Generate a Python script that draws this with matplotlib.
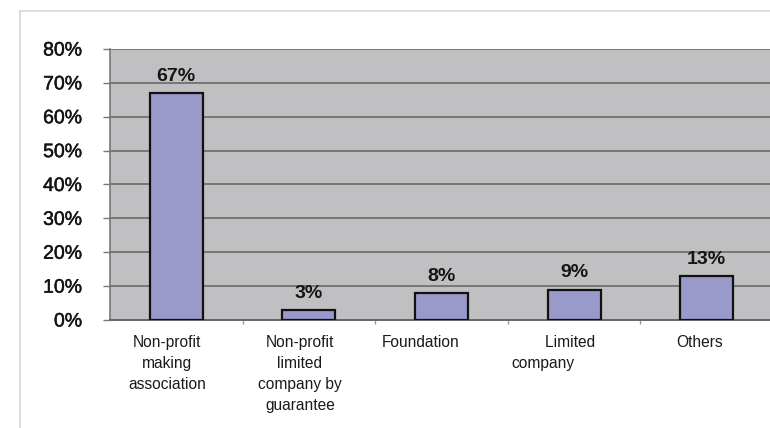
import matplotlib
matplotlib.use("Agg")
from matplotlib import pyplot as plt
from matplotlib import patheffects
from matplotlib.lines import Line2D
from matplotlib.transforms import offset_copy

categories = [
    "Non-profit\nmaking\nassociation",
    "Non-profit\nlimited\ncompany by\nguarantee",
    "Foundation",
    "        Limited\ncompany",
    "Others",
]
shares = [67, 3, 8, 9, 13]
y_ticks = [0, 10, 20, 30, 40, 50, 60, 70, 80]
y_tick_labels = [f"{v}%" for v in y_ticks]

# labels sit a little left of their bars (pixels)
label_shift = [-9, -9, -21, -21, -7]

plt.rcParams["font.family"] = ["Liberation Sans", "DejaVu Sans"]

fig = plt.figure(figsize=(7.7, 4.28), dpi=100)
fig.patch.set_facecolor("white")

# thin light frame around the chart area
fig.add_artist(Line2D([20 / 770, 1.0], [1 - 11 / 428, 1 - 11 / 428],
                      transform=fig.transFigure, color="#d6d6d6", lw=1.2))
fig.add_artist(Line2D([20 / 770, 20 / 770], [0, 1 - 11 / 428],
                      transform=fig.transFigure, color="#d6d6d6", lw=1.2))

ax = fig.add_axes([110 / 770, 1 - 320 / 428, 663 / 770, 271 / 428])
ax.set_facecolor("#c0c0c3")

x = list(range(len(categories)))
ax.bar(x, shares, width=0.4, color="#9999cc", edgecolor="#111111",
       linewidth=1.6, zorder=3)

for xi, v in zip(x, shares):
    ax.annotate(f"{v}%", (xi, v), xytext=(0, 6), textcoords="offset points",
                ha="center", va="bottom", fontsize=14, fontweight="bold",
                color="#151515", zorder=4)

ax.set_xlim(-0.5, len(categories) - 0.5)
ax.set_ylim(0, 80)
ax.set_yticks(y_ticks)
ax.set_yticklabels(y_tick_labels, fontsize=14, color="#151515")
for lab in ax.get_yticklabels():
    lab.set_path_effects([patheffects.withStroke(linewidth=0.35, foreground="#151515")])
ax.yaxis.grid(True, color="#6a6a6a", linewidth=1.2, zorder=1)
ax.set_axisbelow(True)

ax.tick_params(axis="y", length=5, width=1, color="#777777", pad=15)
ax.set_xticks([i + 0.5 for i in range(len(categories) - 1)])
ax.set_xticklabels([])
ax.tick_params(axis="x", length=3, width=1, color="#999999", direction="out")

for side in ["top", "right"]:
    ax.spines[side].set_visible(False)
ax.spines["left"].set_color("#777777")
ax.spines["bottom"].set_color("#666666")
ax.spines["left"].set_linewidth(1.2)
ax.spines["bottom"].set_linewidth(1.4)

for xi, name, dx in zip(x, categories, label_shift):
    tr = offset_copy(ax.get_xaxis_transform(), fig=fig, x=dx, y=-15, units="dots")
    ax.text(xi, 0, name, transform=tr, ha="center", va="top",
            multialignment="left" if name.startswith(" ") else "center",
            fontsize=11.2, linespacing=1.5, color="#1a1a1a", clip_on=False)

fig.savefig("out.png", dpi=100)
